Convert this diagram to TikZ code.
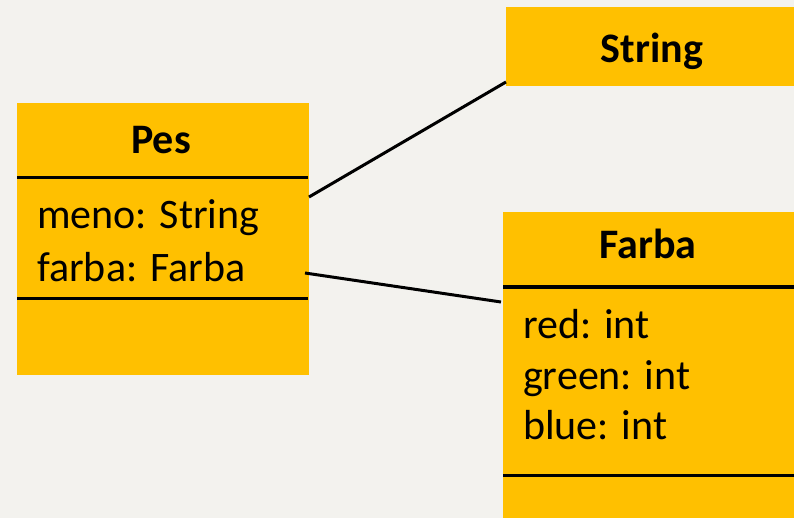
\documentclass[tikz,border=0pt]{standalone}
\usepackage{fontspec}
\setmainfont{Carlito}
\definecolor{bgc}{HTML}{F3F2EE}
\definecolor{boxc}{HTML}{FFC000}
\begin{document}
\begin{tikzpicture}[x=1pt,y=-1pt,
  umlbox/.style={fill=boxc,draw=none,inner sep=0pt,anchor=north west},
  title/.style={font=\fontsize{42}{50}\selectfont\bfseries,inner sep=0pt,anchor=base},
  attr/.style={font=\fontsize{42}{50}\selectfont,inner sep=0pt,anchor=base west},
  divider/.style={line width=3pt,black},
  conn/.style={line width=3pt,black}]
\fill[bgc] (0,0) rectangle (794,518);
\useasboundingbox (0,0) rectangle (794,518);
% Pes
\node[umlbox,minimum width=292pt,minimum height=272pt] (pes) at (17,103) {};
\node[title] (pest) at (161,154) {Pes};
\draw[divider] (17,178) -- (308,178);
\draw[divider] (17,298) -- (308,298);
\node[attr] (pesa1) at (37,229) {meno: String};
\node[attr] (pesa2) at (37,281) {farba: Farba};
% String
\node[umlbox,minimum width=300pt,minimum height=79pt] (str) at (506,7) {};
\node[title] (strt) at (652,63) {String};
% Farba
\node[umlbox,minimum width=300pt,minimum height=320pt] (farba) at (503,212) {};
\node[title] (farbat) at (648,259) {Farba};
\draw[divider] (503,287) -- (800,287);
\draw[divider] (503,475) -- (800,475);
\node[attr] (fa1) at (523,338) {red: int};
\node[attr] (fa2) at (523,389) {green: int};
\node[attr] (fa3) at (523,439) {blue: int};
% connectors
\coordinate (c1) at (309,197);
\coordinate (c2) at (506,82);
\coordinate (c3) at (305,273);
\coordinate (c4) at (501,302);
\draw[conn] (c1) -- (c2);
\draw[conn] (c3) -- (c4);
\end{tikzpicture}
\end{document}
